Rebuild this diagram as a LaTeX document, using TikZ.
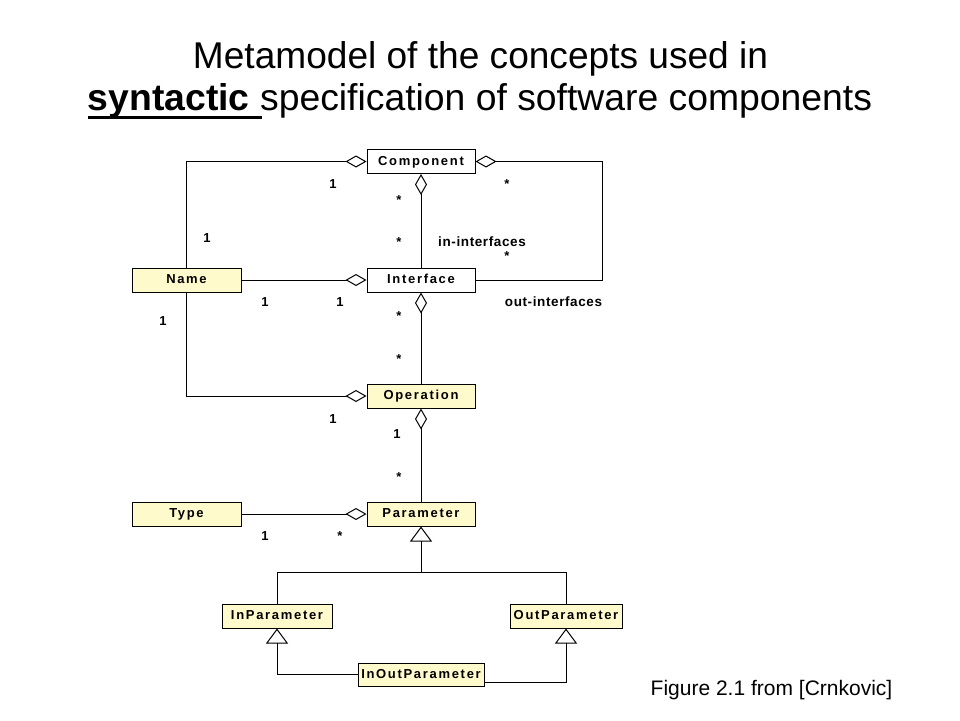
\documentclass[tikz,border=0pt]{standalone}
\usepackage{fontspec}
\setmainfont{Liberation Sans}
\newfontfamily\boxfont{Liberation Sans}[LetterSpace=13]
\newfontfamily\rolefont{Liberation Sans}[LetterSpace=4.5]
\usetikzlibrary{arrows.meta}
\definecolor{classyellow}{RGB}{255,250,204}
\tikzset{
  cls/.style={draw=black, line width=1pt, minimum width=108pt, minimum height=24pt,
    inner sep=0pt, text height=9.5pt, text depth=2.5pt,
    font=\boxfont\bfseries\fontsize{13}{15}\selectfont},
  ycls/.style={cls, fill=classyellow},
  wcls/.style={cls, fill=white},
  conn/.style={draw=black, line width=1pt},
  agg/.style={conn, -{Diamond[open, length=21pt, width=12pt]}},
  gen/.style={conn, -{Triangle[open, length=15pt, width=22pt]}},
  mult/.style={anchor=base, inner sep=0pt, font=\bfseries\fontsize{13}{15}\selectfont},
  role/.style={anchor=base, inner sep=0pt, font=\rolefont\bfseries\fontsize{13.5}{15}\selectfont}
}
\begin{document}
\begin{tikzpicture}[x=1pt, y=-1pt]
\useasboundingbox (0,0) rectangle (960,720);
\fill[white] (0,0) rectangle (960,720);

% title
\node[anchor=base, inner sep=0pt] (t1) at (480.5,68)
  {\resizebox{575pt}{27pt}{Metamodel of the concepts used in}};
\node[anchor=base, inner sep=0pt] (t2) at (480,110)
  {\resizebox{784pt}{27pt}{\textbf{syntactic} specification of software components}};
\draw[line width=3pt] (88,117) -- (262,117);

% classes
\node[wcls] (comp) at (421,161.5) {Component};
\node[wcls] (intf) at (421,280) {Interface};
\node[ycls, minimum width=109pt] (name) at (186.5,280) {Name};
\node[ycls] (op) at (421,396) {Operation};
\node[ycls] (par) at (421,514) {Parameter};
\node[ycls, minimum width=109pt] (type) at (186.5,514) {Type};
\node[ycls, minimum width=110pt] (inp) at (277,616) {InParameter};
\node[ycls, minimum width=112pt] (outp) at (566,616) {OutParameter};
\node[ycls, minimum width=126pt, minimum height=23pt] (iop) at (421,674.5) {InOutParameter};

% aggregations
\draw[agg] (name.north) |- (comp.west);
\coordinate (rc) at (602,280);
\draw[agg] (intf.east) -- (rc) |- (comp.east);
\draw[agg] (intf.north) -- (comp.south);
\draw[agg] (name.east) -- (intf.west);
\draw[agg] (op.north) -- (intf.south);
\draw[agg] (name.south) |- (op.west);
\draw[agg] (par.north) -- (op.south);
\draw[agg] (type.east) -- (par.west);

% generalizations
\coordinate (gj) at (421,572);
\draw[conn] (inp.north) |- (gj);
\draw[conn] (outp.north) |- (gj);
\draw[gen] (gj) -- (par.south);
\draw[gen] (iop.west) -| (inp.south);
\draw[gen] ([yshift=-7.5pt]iop.east) -| (outp.south);

% multiplicities
\node[mult] (m1) at (333,188) {1};
\node[mult] (m2) at (399,204) {*};
\node[mult] (m3) at (507,188) {*};
\node[mult] (m4) at (207,242) {1};
\node[mult] (m5) at (399,246) {*};
\node[mult] (m6) at (507,260) {*};
\node[mult] (m7) at (265,306) {1};
\node[mult] (m8) at (340,306) {1};
\node[mult] (m9) at (399,320) {*};
\node[mult] (m10) at (163,325) {1};
\node[mult] (m11) at (399,363) {*};
\node[mult] (m12) at (333,423) {1};
\node[mult] (m13) at (397,438) {1};
\node[mult] (m14) at (399,481) {*};
\node[mult] (m15) at (265,540) {1};
\node[mult] (m16) at (340,540) {*};

% role names
\node[role] (r1) at (482,246) {in-interfaces};
\node[role] (r2) at (553.5,306) {out-interfaces};

% caption
\node[anchor=base, inner sep=0pt, font=\fontsize{21}{24}\selectfont] (cap) at (771.5,695)
  {Figure 2.1 from [Crnkovic]};
\end{tikzpicture}
\end{document}
